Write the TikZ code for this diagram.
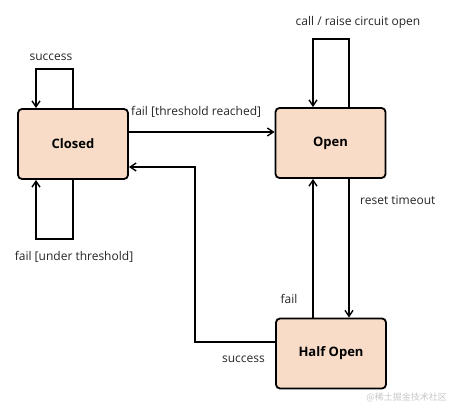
\documentclass[tikz,border=0pt]{standalone}
\usepackage{fontspec}
\setmainfont{Open Sans}
\newfontfamily\cjkfont{Noto Sans CJK SC}
\usetikzlibrary{arrows.meta}
\definecolor{boxfill}{RGB}{248,220,200}
\definecolor{wmgray}{RGB}{200,200,200}
\tikzset{
  state/.style={draw=black, line width=1.8pt, rounded corners=4pt, fill=boxfill,
    minimum width=110pt, minimum height=70pt, inner sep=0pt,
    font=\fontsize{13}{15}\selectfont\bfseries},
  conn/.style={draw=black, line width=1.6pt, -{Straight Barb[length=6pt,width=8pt,line width=1.4pt]}},
  lbl/.style={font=\fontsize{12}{14}\selectfont, inner sep=0pt, text=black!85},
}
\begin{document}
\begin{tikzpicture}[x=1pt,y=-1pt]
\useasboundingbox (0,0) rectangle (450,406);
\fill[white] (0,0) rectangle (450,406);
\node[state] (closed) at (73,144) {Closed};
\node[state] (open) at (330.5,143) {Open};
\node[state] (half) at (331,353.5) {Half Open};

% Closed self-loop top (success)
\coordinate (c1) at (73,69);
\coordinate (c2) at (36,69);
\draw[conn] (closed.north -| c1) -- (c1) -- (c2) -- (closed.north -| c2);
\node[lbl] (lsucc1) at (51,57) {success};

% Closed self-loop bottom (fail under threshold)
\coordinate (c3) at (73,239);
\coordinate (c4) at (36,239);
\draw[conn] (closed.south -| c3) -- (c3) -- (c4) -- (closed.south -| c4);
\node[lbl] (lfailu) at (74,257) {fail [under threshold]};

% Open self-loop (call / raise circuit open)
\coordinate (o1) at (349,39);
\coordinate (o2) at (313,39);
\draw[conn] (open.north -| o1) -- (o1) -- (o2) -- (open.north -| o2);
\node[lbl] (lcall) at (358,22) {call / raise circuit open};

% Closed -> Open (fail threshold reached)
\coordinate (t1) at (0,132);
\draw[conn] (closed.east |- t1) -- (open.west |- t1);
\node[lbl, anchor=west] (lfailt) at (131,112) {fail [threshold reached]};

% Open -> Half Open (reset timeout)
\coordinate (r1) at (349,0);
\draw[conn] (open.south -| r1) -- (half.north -| r1);
\node[lbl, anchor=west] (lreset) at (360,200) {reset timeout};

% Half Open -> Open (fail)
\coordinate (f1) at (313,0);
\draw[conn] (half.north -| f1) -- (open.south -| f1);
\node[lbl] (lfail) at (289,299) {fail};

% Half Open -> Closed (success)
\coordinate (s1) at (195,342);
\coordinate (s2) at (195,167);
\draw[conn] (half.west |- s1) -- (s1) -- (s2) -- (closed.east |- s2);
\node[lbl, anchor=east] (lsucc2) at (265,359) {success};

% watermark
\node[font=\cjkfont\fontsize{9}{10}\selectfont, text=wmgray, anchor=east, inner sep=0pt] (wm) at (447,397) {@稀土掘金技术社区};
\end{tikzpicture}
\end{document}
